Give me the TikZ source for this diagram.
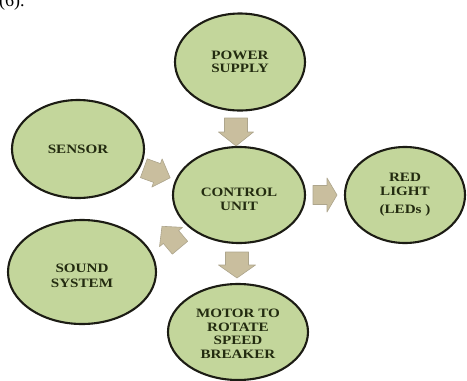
\documentclass[tikz,border=0pt]{standalone}
\usepackage{fontspec}
\setmainfont{Liberation Serif}
\newfontfamily\labfont{Liberation Serif}[FakeStretch=1.18]
\usetikzlibrary{shapes.geometric}
\definecolor{bubblefill}{HTML}{C3D69B}
\definecolor{ringcol}{HTML}{1C1C14}
\definecolor{labcol}{HTML}{232B10}
\definecolor{arrowfill}{HTML}{C9BE9E}
\definecolor{arrowline}{HTML}{ADA58C}
\newcommand\arrowshape[4]{({-#1/2},{-#3}) -- ({-#1/2+#2},{-#3}) -- ({-#1/2+#2},{-#4}) -- ({#1/2},0) -- ({-#1/2+#2},{#4}) -- ({-#1/2+#2},{#3}) -- ({-#1/2},{#3}) -- cycle}
\newcommand\lowerstrut[1]{\rule{0pt}{#1}}
\begin{document}
\begin{tikzpicture}[x=1pt,y=-1pt,
  bubble/.style={ellipse, draw=ringcol, line width=2.1pt, fill=bubblefill, inner sep=0pt, align=center,
    font=\labfont\bfseries\fontsize{12.8}{13.5}\selectfont, text=labcol},
  arrowbody/.style={fill=arrowfill, draw=arrowline, line width=0.6pt, line join=round}]
\useasboundingbox[fill=white] (0,0) rectangle (467,381);
\node[anchor=base west, inner sep=0pt, font=\fontsize{18}{20}\selectfont] (fig) at (-1,6) {(6).};
\node[bubble, minimum width=130pt, minimum height=97pt] (ps) at (240,62) {POWER\\SUPPLY};
\node[bubble, minimum width=132pt, minimum height=98pt] (sn) at (78,149) {SENSOR};
\node[bubble, minimum width=132pt, minimum height=96pt] (cu) at (239,195) {\lowerstrut{17pt}CONTROL\\UNIT};
\node[bubble, minimum width=120pt, minimum height=96pt] (rl) at (405,195) {RED\\LIGHT\\[5pt](LEDs )};
\node[bubble, minimum width=148pt, minimum height=104pt] (ss) at (82,272) {\lowerstrut{17pt}SOUND\\[1.5pt]SYSTEM};
\node[bubble, minimum width=140pt, minimum height=96pt] (mt) at (238,332) {\lowerstrut{12pt}MOTOR TO\\ROTATE\\SPEED\\BREAKER};
% block arrows between the nodes
\path[arrowbody, shift={(236,132)}, rotate=-90] \arrowshape{28}{14}{11.5}{17.5};
\path[arrowbody, shift={(237,265)}, rotate=-90] \arrowshape{26}{13}{11.5}{18.5};
\path[arrowbody, shift={(325,195)}, rotate=0] \arrowshape{24}{14}{9.5}{17};
\path[arrowbody, shift={(157,173)}, rotate=-20] \arrowshape{28}{14}{10}{15};
\path[arrowbody, shift={(171,237)}, rotate=130] \arrowshape{28}{14}{10}{15};
\end{tikzpicture}
\end{document}
